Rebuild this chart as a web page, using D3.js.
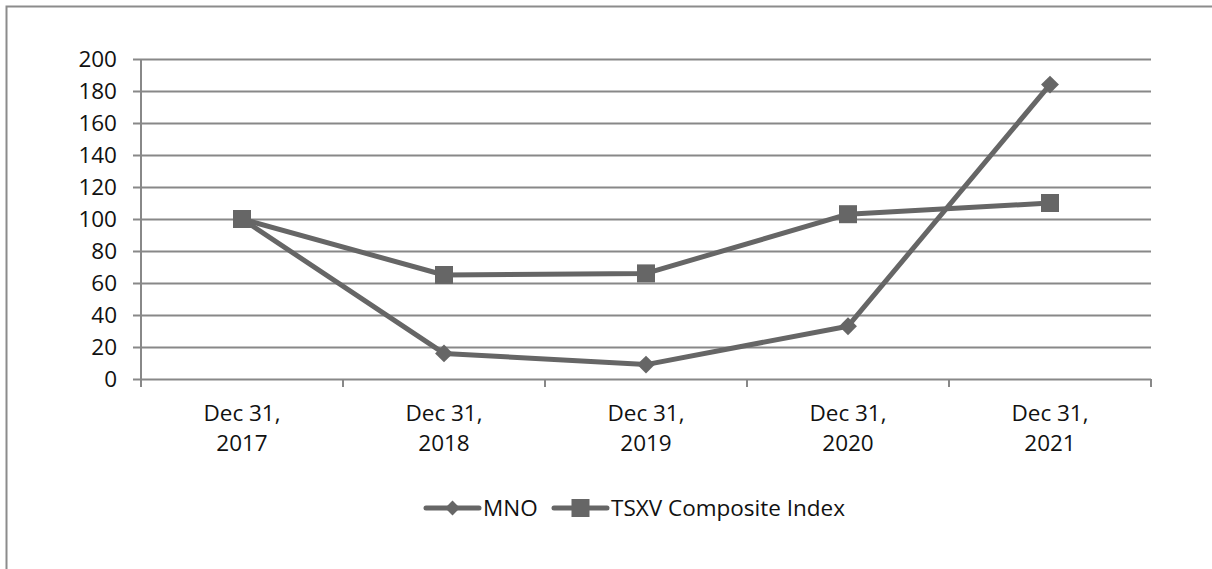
<!DOCTYPE html>
<html>
<head>
<meta charset="utf-8">
<script src="https://cdn.jsdelivr.net/npm/d3@7/dist/d3.min.js"></script>
<style>
  html, body { margin: 0; padding: 0; background: #fff; }
  svg { display: block; font-family: "Open Sans", sans-serif; }
</style>
</head>
<body>
<svg id="chart" width="1212" height="569"></svg>
<script>
const categories = ['Dec 31, 2017', 'Dec 31, 2018', 'Dec 31, 2019', 'Dec 31, 2020', 'Dec 31, 2021'];
const mnoValues = [100, 16, 9, 33, 184];
const tsxvValues = [100, 65, 66, 103, 110];
const yTicks = [0, 20, 40, 60, 80, 100, 120, 140, 160, 180, 200];
const seriesNames = ['MNO', 'TSXV Composite Index'];

const colors = { line: '#666666', grid: '#888888', text: '#111111', border: '#8c8c8c' };
const fontSize = 22.5;

const svg = d3.select('#chart');

// Outer frame (left and top edges visible)
svg.append('path')
  .attr('d', 'M6.5,569 L6.5,6.5 L1212,6.5')
  .attr('fill', 'none')
  .attr('stroke', colors.border)
  .attr('stroke-width', 2);

// Scales
const x = d3.scaleBand()
  .domain(categories)
  .range([141, 1151]);

const y = d3.scaleLinear()
  .domain([0, 200])
  .range([379, 59]);

// Gridlines + y axis
const yAxis = svg.append('g')
  .attr('transform', 'translate(141,0)')
  .call(d3.axisLeft(y).tickValues(yTicks).tickSize(8));

yAxis.select('.domain').remove();
yAxis.selectAll('.tick line')
  .attr('x1', -8)
  .attr('x2', 1151 - 141)
  .attr('stroke', colors.grid)
  .attr('stroke-width', 2);
yAxis.selectAll('.tick text')
  .attr('x', -24)
  .attr('fill', colors.text)
  .style('font-size', fontSize + 'px')
  .style('font-family', '"Open Sans", sans-serif');

// Vertical axis line
svg.append('line')
  .attr('x1', 141).attr('x2', 141)
  .attr('y1', y(200)).attr('y2', y(0))
  .attr('stroke', colors.grid)
  .attr('stroke-width', 2);

// X tick marks at band boundaries
const boundaries = categories.map(c => x(c)).concat([x.range()[1]]);
svg.append('g').selectAll('line')
  .data(boundaries)
  .enter().append('line')
  .attr('x1', d => d).attr('x2', d => d)
  .attr('y1', y(0)).attr('y2', y(0) + 8)
  .attr('stroke', colors.grid)
  .attr('stroke-width', 2);

// X labels, two lines each
const xLabels = svg.append('g').selectAll('text')
  .data(categories)
  .enter().append('text')
  .attr('x', d => x(d) + x.bandwidth() / 2)
  .attr('y', 421)
  .attr('text-anchor', 'middle')
  .attr('fill', colors.text)
  .style('font-size', fontSize + 'px');

xLabels.each(function(d) {
  const parts = d.split(' ');
  const t = d3.select(this);
  t.append('tspan').attr('x', x(d) + x.bandwidth() / 2).attr('dy', 0).text(parts[0] + ' ' + parts[1]);
  t.append('tspan').attr('x', x(d) + x.bandwidth() / 2).attr('dy', 30).text(parts[2]);
});

// Lines
const line = d3.line()
  .x((d, i) => x(categories[i]) + x.bandwidth() / 2)
  .y(d => y(d));

function drawSeries(values, marker) {
  svg.append('path')
    .datum(values)
    .attr('d', line)
    .attr('fill', 'none')
    .attr('stroke', colors.line)
    .attr('stroke-width', 5)
    .attr('stroke-linejoin', 'round');

  const pts = svg.append('g').selectAll('.pt')
    .data(values)
    .enter();

  if (marker === 'diamond') {
    pts.append('path')
      .attr('d', d3.symbol().type(d3.symbolSquare).size(160)())
      .attr('transform', (d, i) => `translate(${x(categories[i]) + x.bandwidth() / 2},${y(d)}) rotate(45)`)
      .attr('fill', colors.line);
  } else {
    pts.append('rect')
      .attr('x', (d, i) => x(categories[i]) + x.bandwidth() / 2 - 9)
      .attr('y', d => y(d) - 9)
      .attr('width', 18)
      .attr('height', 18)
      .attr('fill', colors.line);
  }
}

drawSeries(mnoValues, 'diamond');
drawSeries(tsxvValues, 'square');

// Legend
const legendY = 508;
const legendItems = [
  { name: seriesNames[0], marker: 'diamond', x0: 426 },
  { name: seriesNames[1], marker: 'square', x0: 554 }
];

legendItems.forEach(item => {
  const g = svg.append('g');
  g.append('line')
    .attr('x1', item.x0).attr('x2', item.x0 + 53)
    .attr('y1', legendY).attr('y2', legendY)
    .attr('stroke', colors.line)
    .attr('stroke-width', 5)
    .attr('stroke-linecap', 'round');
  const cx = item.x0 + 26.5;
  if (item.marker === 'diamond') {
    g.append('path')
      .attr('d', d3.symbol().type(d3.symbolSquare).size(110)())
      .attr('transform', `translate(${cx},${legendY}) rotate(45)`)
      .attr('fill', colors.line);
  } else {
    g.append('rect')
      .attr('x', cx - 9).attr('y', legendY - 9)
      .attr('width', 18).attr('height', 18)
      .attr('fill', colors.line);
  }
  g.append('text')
    .attr('x', item.x0 + 57)
    .attr('y', legendY + 8)
    .attr('fill', colors.text)
    .style('font-size', fontSize + 'px')
    .text(item.name);
});
</script>
</body>
</html>
